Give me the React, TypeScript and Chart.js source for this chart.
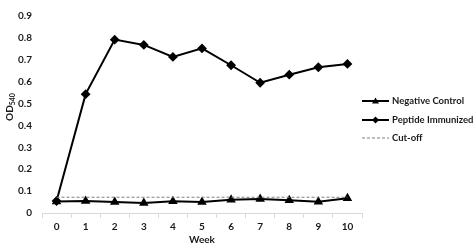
import React, { useEffect, useRef } from "react";
import { Chart, registerables } from "chart.js";

Chart.register(...registerables);

const weeks = ["0", "1", "2", "3", "4", "5", "6", "7", "8", "9", "10"];
const negativeControl = [0.053, 0.055, 0.05, 0.046, 0.054, 0.05, 0.06, 0.064, 0.058, 0.051, 0.067];
const peptideImmunized = [0.055, 0.543, 0.792, 0.768, 0.713, 0.752, 0.675, 0.595, 0.632, 0.666, 0.681];
const cutOff = [0.072, 0.072, 0.072, 0.072, 0.072, 0.072, 0.072, 0.072, 0.072, 0.072, 0.072];

const FONT = "Lato, 'Open Sans', sans-serif";
const TEXT = "#1a1a1a";

const yTitlePlugin = {
  id: "yTitle",
  afterDraw(chart: any) {
    const ctx = chart.ctx;
    ctx.save();
    ctx.translate(10, 107);
    ctx.rotate(-Math.PI / 2);
    ctx.fillStyle = TEXT;
    ctx.textBaseline = "middle";
    ctx.font = `bold 10px ${FONT}`;
    const w1 = ctx.measureText("OD").width;
    ctx.font = `bold 7px ${FONT}`;
    const w2 = ctx.measureText("540").width;
    const start = -(w1 + w2) / 2;
    ctx.font = `bold 10px ${FONT}`;
    ctx.textAlign = "left";
    ctx.fillText("OD", start, 0);
    ctx.font = `bold 7px ${FONT}`;
    ctx.fillText("540", start + w1, 3);
    ctx.restore();
  },
};

const legendPlugin = {
  id: "customLegend",
  afterDraw(chart: any) {
    const ctx = chart.ctx;
    const x0 = 362;
    const x1 = 389;
    const items = [
      { label: "Negative Control", y: 101, style: "triangle", dash: [] as number[], color: "#000", width: 2 },
      { label: "Peptide Immunized", y: 120, style: "rectRot", dash: [] as number[], color: "#000", width: 2 },
      { label: "Cut-off", y: 138, style: null, dash: [3, 2], color: "#7f7f7f", width: 1 },
    ];
    ctx.save();
    for (const it of items) {
      ctx.beginPath();
      ctx.setLineDash(it.dash);
      ctx.strokeStyle = it.color;
      ctx.lineWidth = it.width;
      ctx.moveTo(x0, it.y);
      ctx.lineTo(x1, it.y);
      ctx.stroke();
      ctx.setLineDash([]);
      if (it.style) {
        ctx.fillStyle = "#000";
        ctx.beginPath();
        const r = 3.5;
        const cx = (x0 + x1) / 2;
        if (it.style === "triangle") {
          ctx.moveTo(cx, it.y - r);
          ctx.lineTo(cx + r, it.y + r * 0.7);
          ctx.lineTo(cx - r, it.y + r * 0.7);
        } else {
          ctx.moveTo(cx, it.y - r);
          ctx.lineTo(cx + r, it.y);
          ctx.lineTo(cx, it.y + r);
          ctx.lineTo(cx - r, it.y);
        }
        ctx.closePath();
        ctx.fill();
      }
      ctx.fillStyle = TEXT;
      ctx.font = `bold 9.5px ${FONT}`;
      ctx.textAlign = "left";
      ctx.textBaseline = "middle";
      ctx.fillText(it.label, 392, it.y);
    }
    ctx.restore();
  },
};

export default function App() {
  const ref = useRef<HTMLCanvasElement>(null);
  useEffect(() => {
    if (!ref.current) return;
    const chart = new Chart(ref.current, {
      type: "line",
      data: {
        labels: weeks,
        datasets: [
          {
            label: "Cut-off",
            data: cutOff,
            borderColor: "#7f7f7f",
            borderWidth: 1,
            borderDash: [3, 2],
            pointRadius: 0,
            fill: false,
          },
          {
            label: "Negative Control",
            data: negativeControl,
            borderColor: "#000",
            backgroundColor: "#000",
            borderWidth: 2,
            pointStyle: "triangle",
            pointRadius: 3.5,
            fill: false,
          },
          {
            label: "Peptide Immunized",
            data: peptideImmunized,
            borderColor: "#000",
            backgroundColor: "#000",
            borderWidth: 2,
            pointStyle: "rectRot",
            pointRadius: 3.5,
            fill: false,
          },
        ],
      },
      options: {
        animation: false,
        responsive: false,
        layout: { padding: { left: 0, right: 111, top: 2, bottom: 0 } },
        plugins: { legend: { display: false }, tooltip: { enabled: false } },
        scales: {
          x: {
            offset: true,
            grid: {
              display: true,
              drawOnChartArea: false,
              offset: true,
              color: "#d9d9d9",
              tickLength: 5,
            },
            border: { display: true, color: "#d9d9d9" },
            ticks: { color: TEXT, font: { family: FONT, size: 10, weight: "bold" }, padding: 3, maxRotation: 0 },
            title: {
              display: true,
              text: "Week",
              color: TEXT,
              font: { family: FONT, size: 10, weight: "bold" },
              padding: 0,
            },
            afterFit(scale: any) {
              scale.height = 33;
            },
          },
          y: {
            min: 0,
            max: 0.9,
            grid: { display: false, drawTicks: false },
            border: { display: false },
            ticks: {
              stepSize: 0.1,
              color: TEXT,
              font: { family: FONT, size: 10, weight: "bold" },
              padding: 10,
              callback: (v: any) => (Math.round(Number(v) * 10) / 10).toString(),
            },
            afterFit(scale: any) {
              scale.width = 42;
            },
          },
        },
      },
      plugins: [yTitlePlugin, legendPlugin],
    } as any);
    return () => chart.destroy();
  }, []);
  return (
    <div style={{ position: "fixed", left: 0, top: 0, width: 473, height: 246, background: "#fff" }}>
      <canvas ref={ref} width={473} height={246} style={{ width: 473, height: 246 }} />
    </div>
  );
}
